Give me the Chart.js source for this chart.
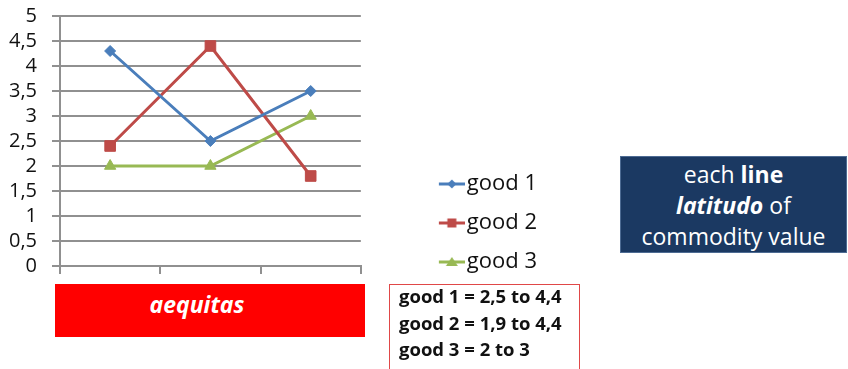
<!DOCTYPE html>
<html>
<head>
<meta charset="utf-8">
<script src="https://cdn.jsdelivr.net/npm/chart.js@4.4.0/dist/chart.umd.min.js"></script>
<style>
  html, body { margin: 0; padding: 0; background: #fff; }
  body {
    width: 848px; height: 369px; position: relative; overflow: hidden;
    font-family: "Open Sans", "Noto Sans", sans-serif;
  }
  #wrap { position: absolute; left: 0; top: 0; width: 560px; height: 290px; }
  .box { position: absolute; box-sizing: border-box; }
  #aequitas {
    left: 55px; top: 284px; width: 310px; height: 53px;
    background: #ff0000; color: #fff;
    font-weight: bold; font-style: italic; font-size: 23px;
    text-align: center; line-height: 40px; padding-right: 26px;
  }
  #ranges {
    left: 389px; top: 284px; width: 191px; height: 100px;
    border: 1.5px solid #e04848; background: #fff; color: #111;
    font-weight: bold; font-size: 18.5px; line-height: 26.5px;
    padding-left: 9px;
  }
  #ranges div { position: relative; top: -2px; }
  #note {
    left: 620px; top: 156px; width: 227px; height: 97px;
    background: #1b3962; border: 1px solid #4d6b93; color: #fff;
    font-size: 23px; text-align: center; line-height: 31px; padding-top: 2px;
  }
</style>
</head>
<body>
<div id="wrap"><canvas id="chart"></canvas></div>
<div class="box" id="aequitas">aequitas</div>
<div class="box" id="ranges">
  <div>good 1 = 2,5 to 4,4</div>
  <div>good 2 = 1,9 to 4,4</div>
  <div>good 3 = 2 to 3</div>
</div>
<div class="box" id="note">
  each <b>line</b><br><b><i>latitudo</i></b> of<br>commodity value
</div>
<script>
// data
const categories = ['', '', ''];
const good1 = [4.3, 2.5, 3.5];
const good2 = [2.4, 4.4, 1.8];
const good3 = [2, 2, 3];
const seriesNames = ['good 1', 'good 2', 'good 3'];

const yMin = 0;
const yMax = 5;
const yStep = 0.5;

const font = '"Open Sans", "Noto Sans", sans-serif';
const gridColor = '#909090';
const colors = ['#4a7ebb', '#be4b48', '#98b954'];
const shapes = ['rectRot', 'rect', 'triangle'];
const radii = [5.5, 7.5, 6.5];

// legend icon: a short line with the marker in the middle, right-aligned in the image
function legendIcon(color, shape) {
  const c = document.createElement('canvas');
  c.width = 96;
  c.height = 16;
  const g = c.getContext('2d');
  g.strokeStyle = color;
  g.fillStyle = color;
  g.lineWidth = 3;
  g.beginPath();
  g.moveTo(70, 8);
  g.lineTo(96, 8);
  g.stroke();
  const cx = 83, cy = 8;
  g.beginPath();
  if (shape === 'rectRot') {
    g.moveTo(cx, cy - 4.5); g.lineTo(cx + 4.5, cy); g.lineTo(cx, cy + 4.5); g.lineTo(cx - 4.5, cy);
  } else if (shape === 'rect') {
    g.rect(cx - 4.5, cy - 4.5, 9, 9);
  } else {
    g.moveTo(cx, cy - 5); g.lineTo(cx + 6, cy + 4); g.lineTo(cx - 6, cy + 4);
  }
  g.closePath();
  g.fill();
  return c;
}
const icons = colors.map((c, i) => legendIcon(c, shapes[i]));

const series = [good1, good2, good3];

// eslint-disable-next-line no-unused-vars
const lineChart = new Chart(document.getElementById('chart'), {
  type: 'line',
  data: {
    labels: categories,
    datasets: series.map((values, i) => ({
      label: seriesNames[i],
      data: values,
      borderColor: colors[i],
      backgroundColor: colors[i],
      borderWidth: 3,
      tension: 0,
      pointStyle: shapes[i],
      pointRadius: radii[i],
      pointHoverRadius: radii[i],
      pointBackgroundColor: colors[i],
      pointBorderColor: colors[i],
      pointBorderWidth: 1
    }))
  },
  options: {
    responsive: true,
    maintainAspectRatio: false,
    animation: false,
    layout: { padding: { top: 16, right: 13, bottom: 0, left: 0 } },
    scales: {
      x: {
        offset: true,
        grid: { offset: true, drawOnChartArea: false, tickLength: 8, color: gridColor, lineWidth: 2 },
        border: { color: gridColor, width: 2 },
        ticks: { font: { size: 10 }, padding: 2 }
      },
      y: {
        min: yMin,
        max: yMax,
        grid: { color: gridColor, lineWidth: 2, tickLength: 8 },
        border: { color: gridColor, width: 2 },
        ticks: {
          stepSize: yStep,
          autoSkip: false,
          padding: 15,
          color: '#111',
          font: { family: font, size: 20 },
          callback: (v) => String(v).replace('.', ',')
        },
        afterFit(scale) {
          scale.width = 60;
          scale.paddingTop = 0;
          scale.paddingBottom = 0;
        }
      }
    },
    plugins: {
      tooltip: { enabled: false },
      legend: {
        position: 'right',
        align: 'end',
        maxWidth: 300,
        labels: {
          usePointStyle: true,
          pointStyleWidth: 78,
          padding: 17,
          color: '#111',
          font: { family: font, size: 22 },
          generateLabels(chart) {
            const items = Chart.defaults.plugins.legend.labels.generateLabels(chart);
            items.forEach((it, i) => { it.pointStyle = icons[i]; });
            return items;
          }
        }
      }
    }
  }
});
</script>
</body>
</html>
